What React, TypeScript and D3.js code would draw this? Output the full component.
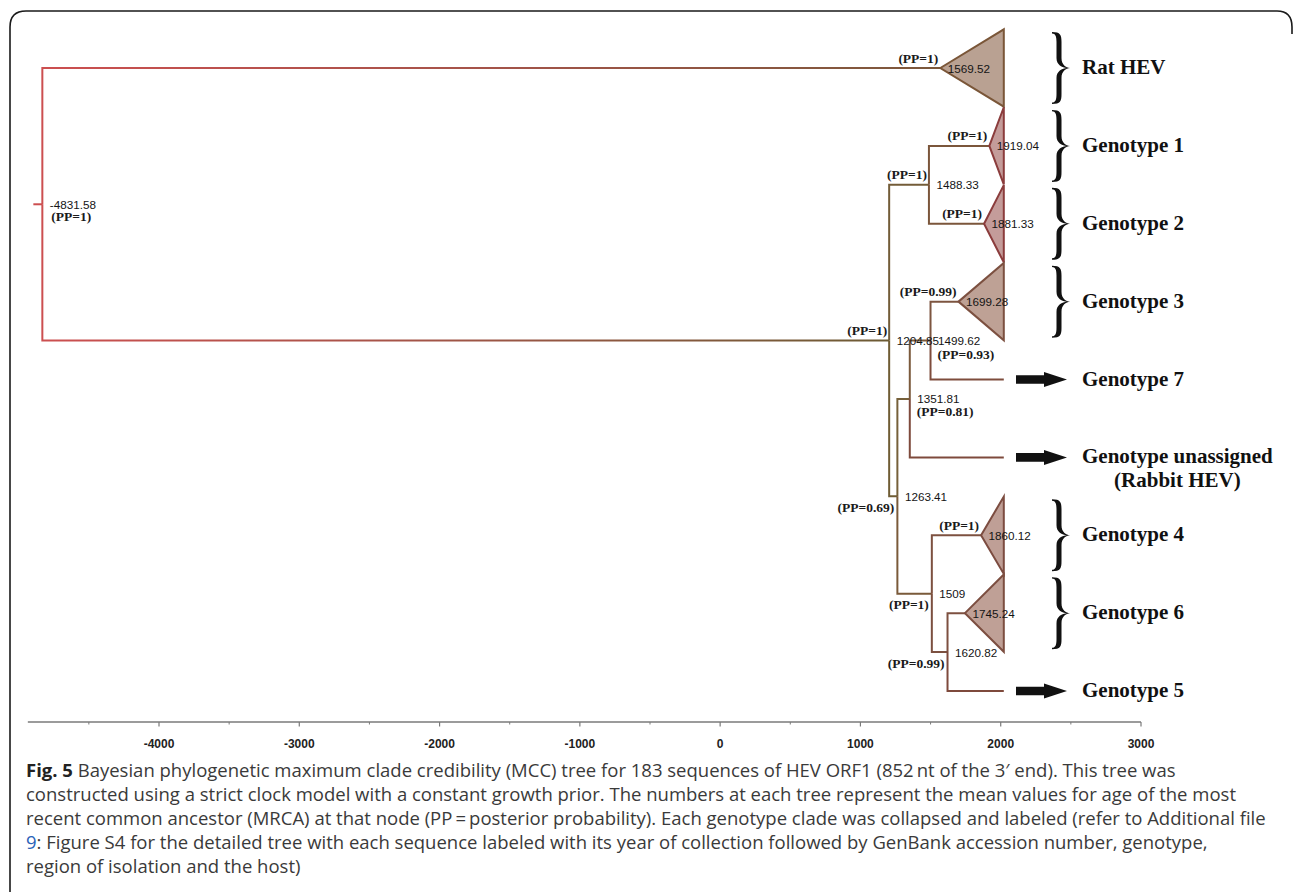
import React from "react";
import * as d3 from "d3";

// ---------------- tree data ----------------
const nodeIds = ["root", "ratHEV", "n1204", "n1488", "gt1", "gt2", "n1263", "n1351", "n1499", "gt3", "gt7", "gtU", "n1509", "gt4", "n1620", "gt6", "gt5"];
const nodeParents = [null, "root", "root", "n1204", "n1488", "n1488", "n1204", "n1263", "n1351", "n1499", "n1499", "n1351", "n1263", "n1509", "n1509", "n1620", "n1620"];
// mean age of the MRCA at each node (null = sampled tip)
const nodeAges = [-4831.58, 1569.52, 1204.85, 1488.33, 1919.04, 1881.33, 1263.41, 1351.81, 1499.62, 1699.28, null, null, 1509, 1860.12, 1620.82, 1745.24, null];
// posterior probability of each node (null = not shown)
const nodePosteriors = ["1", "1", "1", "1", "1", "1", "0.69", "0.81", "0.93", "0.99", null, null, "1", "1", "0.99", null, null];
// clades drawn collapsed as triangles
const collapsedClades = ["ratHEV", "gt1", "gt2", "gt3", "gt4", "gt6"];
// most recent sampling year (tips)
const tipYear = 2022;

// clade names, one entry per leaf, top to bottom
const leafIds = ["ratHEV", "gt1", "gt2", "gt3", "gt7", "gtU", "gt4", "gt6", "gt5"];
const leafLabels = [["Rat HEV"], ["Genotype 1"], ["Genotype 2"], ["Genotype 3"], ["Genotype 7"], ["Genotype unassigned", "(Rabbit HEV)"], ["Genotype 4"], ["Genotype 6"], ["Genotype 5"]];

// time axis
const majorTicks = [-4000, -3000, -2000, -1000, 0, 1000, 2000, 3000];
const minorTicks = [-4500, -3500, -2500, -1500, -500, 500, 1500, 2500];
const axisStart = -4935;

// caption
const captionLines = [
  [{ t: "Fig. 5", k: "bold" }, { t: " Bayesian phylogenetic maximum clade credibility (MCC) tree for 183 sequences of HEV ORF1 (852\u2009nt of the 3\u2032 end). This tree was", k: "" }],
  [{ t: "constructed using a strict clock model with a constant growth prior. The numbers at each tree represent the mean values for age of the most", k: "" }],
  [{ t: "recent common ancestor (MRCA) at that node (PP\u2009=\u2009posterior probability). Each genotype clade was collapsed and labeled (refer to Additional file", k: "" }],
  [{ t: "9", k: "link" }, { t: ": Figure S4 for the detailed tree with each sequence labeled with its year of collection followed by GenBank accession number, genotype,", k: "" }],
  [{ t: "region of isolation and the host)", k: "" }],
];

// ---------------- styling ----------------
const branchColors: Record<string, string> = {
  ratHEV: "url(#gradRat)",
  n1204: "url(#gradMain)",
  n1488: "#735c38",
  gt1: "#7b563b",
  gt2: "#7b563b",
  n1263: "#6f5c34",
  n1351: "#76603a",
  n1499: "#7b5a3c",
  gt3: "#7d5540",
  gt7: "#7e4c3c",
  gtU: "#7e4a3c",
  n1509: "#7a5a3a",
  gt4: "#7d5140",
  n1620: "#7c5040",
  gt6: "#7d5040",
  gt5: "#7e4a3c",
};
const cladeFill: Record<string, string> = {
  ratHEV: "#b9a192",
  gt1: "#c49c9a",
  gt2: "#c49c9a",
  gt3: "#bea195",
  gt4: "#bf9f96",
  gt6: "#bfa096",
};
const cladeStroke: Record<string, string> = {
  ratHEV: "#7a5638",
  gt1: "#8b3c3c",
  gt2: "#8b3c3c",
  gt3: "#7c5040",
  gt4: "#7c4c40",
  gt6: "#7c4e40",
};
// where the posterior label sits relative to its node
const ppPlacement: Record<string, string> = {
  root: "rightBelow",
  ratHEV: "aboveLeft",
  n1204: "aboveLeft",
  n1488: "aboveLeft",
  gt1: "aboveLeft",
  gt2: "aboveLeft",
  n1263: "belowLeft",
  n1351: "rightBelow",
  n1499: "rightBelow",
  gt3: "aboveLeft",
  n1509: "belowLeft",
  gt4: "aboveLeft",
  n1620: "belowLeft",
};

const SERIF = "'Liberation Serif', 'Times New Roman', serif";
const SANS = "'Liberation Sans', Arial, sans-serif";

type Row = { id: string; parent: string | null; age: number | null; pp: string | null };

// calligraphic right curly brace, opening to the left
function bracePath(h: number, w: number) {
  const xa = 7;
  const t = 5;
  const xr = xa + t / 2;
  const xl = xa - t / 2;
  const m = h / 2;
  const c = 10;
  return [
    `M0,0`,
    `C${xr - 1},0 ${xr},3 ${xr},${c}`,
    `L${xr},${m - c}`,
    `C${xr},${m - 3} ${w - 4},${m - 0.6} ${w},${m}`,
    `C${w - 4},${m + 0.6} ${xr},${m + 3} ${xr},${m + c}`,
    `L${xr},${h - c}`,
    `C${xr},${h - 3} ${xr - 1},${h} 0,${h}`,
    `L0,${h - 1.4}`,
    `C${xl - 1},${h - 1.6} ${xl},${h - 4} ${xl},${h - c}`,
    `L${xl},${m + c}`,
    `C${xl},${m + 3} ${w - 8},${m + 0.5} ${w - 3},${m}`,
    `C${w - 8},${m - 0.5} ${xl},${m - 3} ${xl},${m - c}`,
    `L${xl},${c}`,
    `C${xl},4 ${xl - 1},1.6 0,1.4`,
    "Z",
  ].join(" ");
}

function measure(text: string, font: string) {
  const canvas = document.createElement("canvas");
  const ctx = canvas.getContext("2d");
  if (!ctx) return text.length * 10;
  ctx.font = font;
  return ctx.measureText(text).width;
}

export default function App() {
  const width = 1293;
  const height = 892;

  const x = d3.scaleLinear().domain([-4000, 3000]).range([159, 1141]);

  const rows: Row[] = nodeIds.map((id, i) => ({ id, parent: nodeParents[i], age: nodeAges[i], pp: nodePosteriors[i] }));
  const root = d3.stratify<Row>().id((d) => d.id).parentId((d) => d.parent)(rows);
  const leafCount = root.leaves().length;
  d3.cluster<Row>().size([leafCount, 1]).separation(() => 1)(root);
  const y = d3.scaleLinear().domain([0.5, leafCount - 0.5]).range([68, 691]);
  const step = y(1.5) - y(0.5);

  const px = (d: d3.HierarchyNode<Row>) => x(d.data.age ?? tipYear);
  const py = (d: any) => y(d.x);
  const xTip = x(tipYear);
  const nodes = root.descendants();
  const isCollapsed = (id: string) => collapsedClades.includes(id);

  const labelX = 1082;
  const braceX = 1052;
  const arrowX0 = 1016;
  const arrowX1 = 1067;

  const axisY = 722;

  return (
    <svg
      width={width}
      height={height}
      style={{ position: "absolute", left: 0, top: 0, display: "block", background: "#fff" }}
    >
      <defs>
        <linearGradient id="gradRat" gradientUnits="userSpaceOnUse" x1={x(nodeAges[0] as number)} y1={0} x2={x(nodeAges[1] as number)} y2={0}>
          <stop offset="0" stopColor="#cc4f50" />
          <stop offset="0.45" stopColor="#a8534a" />
          <stop offset="1" stopColor="#7b583b" />
        </linearGradient>
        <linearGradient id="gradMain" gradientUnits="userSpaceOnUse" x1={x(nodeAges[0] as number)} y1={0} x2={x(nodeAges[2] as number)} y2={0}>
          <stop offset="0" stopColor="#cc4f50" />
          <stop offset="0.45" stopColor="#a35548" />
          <stop offset="1" stopColor="#6c5b34" />
        </linearGradient>
      </defs>

      {/* frame */}
      <path d="M10,892 V27 Q10,11 26,11 H1277 Q1292,11 1292,27 V34" fill="none" stroke="#1a1a1a" strokeWidth={1.6} />

      {/* root stub */}
      <line x1={px(root) - 9} x2={px(root)} y1={py(root)} y2={py(root)} stroke="#cc4f50" strokeWidth={2} />

      {/* branches */}
      {nodes
        .filter((d) => d.parent)
        .map((d) => {
          const p = d.parent as d3.HierarchyNode<Row>;
          return (
            <path
              key={"b-" + d.id}
              d={`M${px(p)},${py(p)} V${py(d)} H${px(d)}`}
              fill="none"
              stroke={branchColors[d.id as string] || "#7a5a3a"}
              strokeWidth={2}
              strokeLinecap="butt"
              strokeLinejoin="miter"
            />
          );
        })}

      {/* collapsed clades */}
      {root.leaves()
        .filter((d) => isCollapsed(d.id as string))
        .map((d) => {
          const ax = px(d);
          const ay = py(d);
          const h = step / 2 - 0.3;
          return (
            <polygon
              key={"c-" + d.id}
              points={`${ax},${ay} ${xTip},${ay - h} ${xTip},${ay + h}`}
              fill={cladeFill[d.id as string]}
              stroke={cladeStroke[d.id as string]}
              strokeWidth={2}
              strokeLinejoin="miter"
            />
          );
        })}

      {/* node ages */}
      {nodes
        .filter((d) => d.data.age !== null)
        .map((d) => (
          <text
            key={"a-" + d.id}
            x={px(d) + 7.5}
            y={py(d)}
            dominantBaseline="central"
            fontFamily={SANS}
            fontSize={11.7}
            fill="#141414"
          >
            {String(d.data.age)}
          </text>
        ))}

      {/* posterior probabilities */}
      {nodes
        .filter((d) => d.data.pp !== null)
        .map((d) => {
          const place = ppPlacement[d.id as string] || "aboveLeft";
          const nx = px(d);
          const ny = py(d);
          let tx = nx - 2;
          let ty = ny - 10;
          let anchor: "start" | "end" = "end";
          if (place === "belowLeft") {
            tx = nx - 3;
            ty = ny + 11;
          } else if (place === "rightBelow") {
            tx = nx + (d.id === "root" ? 9 : 7);
            ty = ny + (d.id === "n1499" ? 13.5 : 12.5);
            anchor = "start";
          }
          return (
            <text
              key={"p-" + d.id}
              x={tx}
              y={ty}
              textAnchor={anchor}
              dominantBaseline="central"
              fontFamily={SERIF}
              fontWeight="bold"
              fontSize={13.5}
              fill="#1a1a1a"
            >
              {`(PP=${d.data.pp})`}
            </text>
          );
        })}

      {/* clade markers and names */}
      {leafIds.map((id, i) => {
        const leaf = nodes.find((n) => n.id === id)!;
        const ly = py(leaf);
        const lines = leafLabels[i];
        const font = `bold 21px ${SERIF}`;
        const firstW = measure(lines[0], font);
        return (
          <g key={"l-" + id}>
            {isCollapsed(id) ? (
              <path d={bracePath(72, 18)} transform={`translate(${braceX},${ly - 36})`} fill="#111" />
            ) : (
              <path
                d={`M${arrowX0},${ly - 4.3} H${arrowX1 - 23} V${ly - 7.5} L${arrowX1},${ly} L${arrowX1 - 23},${ly + 7.5} V${ly + 4.3} H${arrowX0} Z`}
                fill="#111"
              />
            )}
            {lines.length === 1 ? (
              <text x={labelX} y={ly + 6} fontFamily={SERIF} fontWeight="bold" fontSize={21} fill="#111">
                {lines[0]}
              </text>
            ) : (
              <text fontFamily={SERIF} fontWeight="bold" fontSize={21} fill="#111" textAnchor="middle">
                {lines.map((s, k) => (
                  <tspan key={k} x={labelX + firstW / 2} y={ly + 6 + k * 24}>
                    {s}
                  </tspan>
                ))}
              </text>
            )}
          </g>
        );
      })}

      {/* time axis */}
      <line x1={x(axisStart)} x2={x(3000)} y1={axisY} y2={axisY} stroke="#7a7a7a" strokeWidth={1.5} />
      {majorTicks.map((t) => (
        <g key={"t" + t}>
          <line x1={x(t)} x2={x(t)} y1={axisY} y2={axisY + 4.5} stroke="#7a7a7a" strokeWidth={1.2} />
          <text x={x(t)} y={axisY + 26} textAnchor="middle" fontFamily={SANS} fontWeight="bold" fontSize={12} fill="#222">
            {String(t)}
          </text>
        </g>
      ))}
      {minorTicks.map((t) => (
        <line key={"m" + t} x1={x(t)} x2={x(t)} y1={axisY} y2={axisY + 2.5} stroke="#7a7a7a" strokeWidth={1} />
      ))}

      {/* caption */}
      {captionLines.map((segs, i) => (
        <text key={"cap" + i} x={26} y={777 + i * 24} fontFamily="'Open Sans', sans-serif" fontSize={18.5} fill="#3a3a3a">
          {segs.map((s, k) => (
            <tspan
              key={k}
              fontWeight={s.k === "bold" ? "bold" : "normal"}
              fill={s.k === "link" ? "#2a62b8" : s.k === "bold" ? "#222" : "#3a3a3a"}
            >
              {s.t}
            </tspan>
          ))}
        </text>
      ))}
    </svg>
  );
}
